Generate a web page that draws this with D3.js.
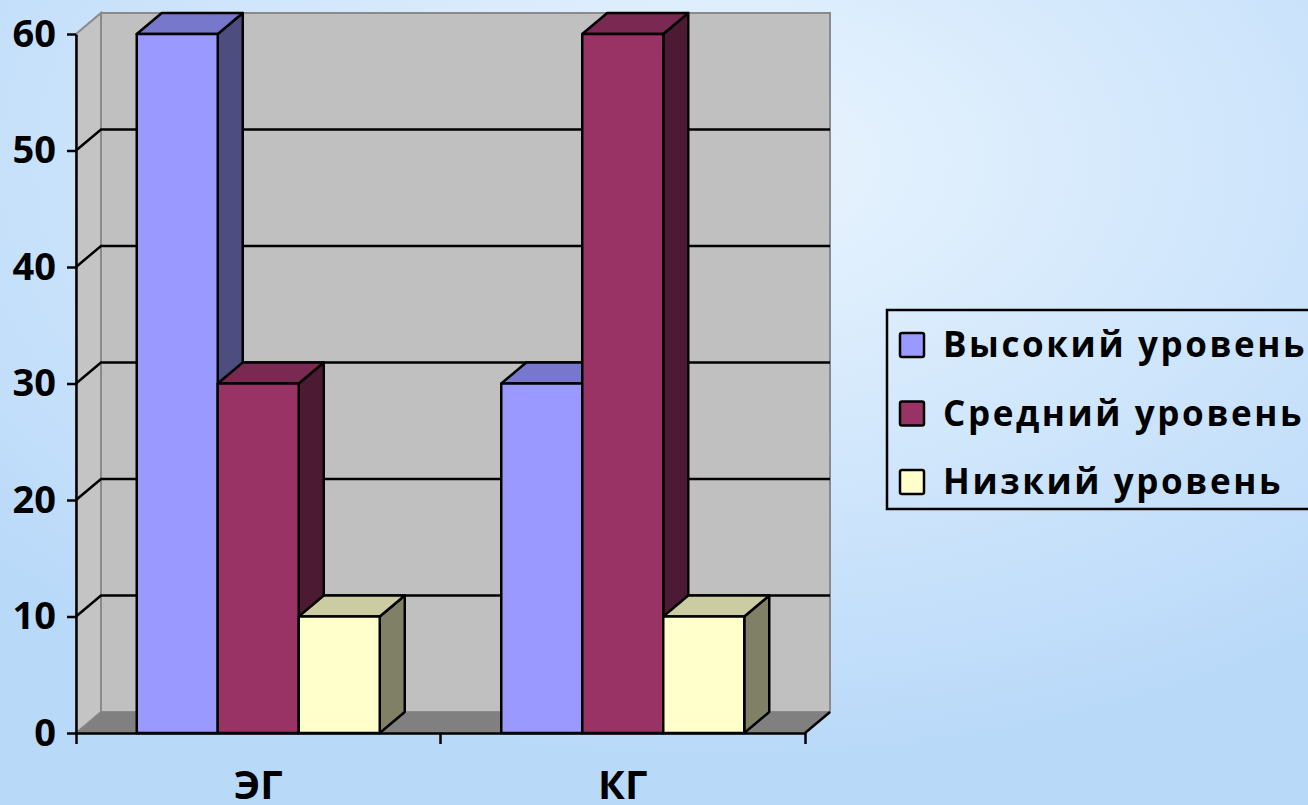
<!DOCTYPE html>
<meta charset="utf-8">
<style>
    body { margin: 0; overflow: hidden; }
    text {
        font-family: "Open Sans", "Noto Sans", sans-serif;
        font-weight: bold;
        fill: black;
    }
    .yAxis text { font-size: 38px; }
    .xAxis text { font-size: 40px; }
    .legend text { font-size: 35px; letter-spacing: 2.6px; }
    .bar path { stroke: black; stroke-width: 2.5px; stroke-linejoin: round; }
</style>
<body>
    <svg width="1308" height="805"></svg>
</body>
<script src="https://d3js.org/d3.v7.min.js"></script>
<script>
    // data
    var categories = ["ЭГ", "КГ"];
    var seriesNames = ["Высокий уровень", "Средний уровень", "Низкий уровень"];
    var highValues = [60, 30];
    var midValues = [30, 60];
    var lowValues = [10, 10];
    var yTicks = [0, 10, 20, 30, 40, 50, 60];

    var seriesValues = [highValues, midValues, lowValues];
    var frontColors = ["#9999ff", "#993366", "#ffffcc"];
    var sideColors = ["#4d4d80", "#4d1a33", "#808066"];
    var topColors = ["#7777cc", "#7a2952", "#cccca3"];

    var svg = d3.select("svg"),
        width = +svg.attr("width"),
        height = +svg.attr("height");

    // background gradient
    var defs = svg.append("defs");
    var grad = defs.append("radialGradient").attr("id", "bg")
        .attr("cx", "55%").attr("cy", "20%").attr("r", "75%");
    grad.append("stop").attr("offset", "0%").attr("stop-color", "#eaf5fe");
    grad.append("stop").attr("offset", "100%").attr("stop-color", "#b9d9f9");
    svg.append("rect").attr("width", width).attr("height", height).attr("fill", "url(#bg)");

    // 3d depth offset
    var dx = 25, dy = -21;

    var y = d3.scaleLinear().domain([0, 60]).range([733, 34]);
    var x0 = d3.scaleBand().domain(categories).range([76, 805]);
    var x1 = d3.scaleBand().domain(seriesNames).range([0, x0.bandwidth()])
        .paddingInner(0).paddingOuter(0.75);

    var g = svg.append("g");
    var xLeft = x0.range()[0], xRight = x0.range()[1];
    var yTop = y(60), yBase = y(0);

    // walls
    g.append("path")
        .attr("d", "M" + (xLeft + dx) + "," + (yTop + dy) + "H" + (xRight + dx) + "V" + (yBase + dy) + "H" + (xLeft + dx) + "Z")
        .attr("fill", "#c0c0c0").attr("stroke", "#8a8a8a").attr("stroke-width", 2);
    g.append("path")
        .attr("d", "M" + xLeft + "," + yTop + "L" + (xLeft + dx) + "," + (yTop + dy) + "V" + (yBase + dy) + "L" + xLeft + "," + yBase + "Z")
        .attr("fill", "#c4c4c4").attr("stroke", "#8a8a8a").attr("stroke-width", 2);

    // gridlines
    g.selectAll(".gridline")
        .data(yTicks.filter(function (d) { return d > 0 && d < 60; }))
        .enter().append("path")
        .attr("class", "gridline")
        .attr("fill", "none").attr("stroke", "black").attr("stroke-width", 2.5)
        .attr("d", function (d) {
            return "M" + xLeft + "," + y(d) + "L" + (xLeft + dx) + "," + (y(d) + dy) + "H" + (xRight + dx);
        });

    // floor
    g.append("path")
        .attr("d", "M" + xLeft + "," + yBase + "L" + (xLeft + dx) + "," + (yBase + dy) + "H" + (xRight + dx) + "L" + xRight + "," + yBase + "Z")
        .attr("fill", "#808080");
    g.append("path")
        .attr("d", "M" + xRight + "," + yBase + "L" + (xRight + dx) + "," + (yBase + dy))
        .attr("stroke", "black").attr("stroke-width", 2.5);

    // bars, drawn left to right
    var bars = [];
    categories.forEach(function (c, ci) {
        seriesNames.forEach(function (s, si) {
            bars.push({ cat: c, s: s, si: si, value: seriesValues[si][ci] });
        });
    });

    var barG = g.selectAll(".bar")
        .data(bars)
        .enter().append("g")
        .attr("class", "bar");

    barG.each(function (d) {
        var b = d3.select(this);
        var xl = x0(d.cat) + x1(d.s), xr = xl + x1.bandwidth();
        var yt = y(d.value);
        b.append("path")
            .attr("fill", sideColors[d.si])
            .attr("d", "M" + xr + "," + yt + "L" + (xr + dx) + "," + (yt + dy) + "V" + (yBase + dy) + "L" + xr + "," + yBase + "Z");
        b.append("path")
            .attr("fill", topColors[d.si])
            .attr("d", "M" + xl + "," + yt + "L" + (xl + dx) + "," + (yt + dy) + "H" + (xr + dx) + "L" + xr + "," + yt + "Z");
        b.append("path")
            .attr("fill", frontColors[d.si])
            .attr("d", "M" + xl + "," + yt + "H" + xr + "V" + yBase + "H" + xl + "Z");
    });

    // y axis
    var yAxis = g.append("g")
        .attr("class", "yAxis")
        .attr("transform", "translate(" + xLeft + ",0)")
        .call(d3.axisLeft(y).tickValues(yTicks).tickSize(9).tickSizeOuter(0).tickPadding(11));
    yAxis.selectAll("path, line").attr("stroke", "black").attr("stroke-width", 2.5);
    yAxis.selectAll("text").attr("font-family", null).attr("font-size", null);

    // x axis
    var xAxis = g.append("g")
        .attr("class", "xAxis")
        .attr("transform", "translate(0," + yBase + ")")
        .call(d3.axisBottom(x0).tickSize(0).tickSizeOuter(11).tickPadding(38));
    xAxis.selectAll("path").attr("stroke", "black").attr("stroke-width", 2.5);
    xAxis.selectAll("text").attr("font-family", null).attr("font-size", null).attr("dy", "0.7em");
    xAxis.append("line")
        .attr("x1", x0("КГ")).attr("x2", x0("КГ"))
        .attr("y1", 0).attr("y2", 11)
        .attr("stroke", "black").attr("stroke-width", 2.5);

    // legend
    var legend = svg.append("g").attr("class", "legend").attr("transform", "translate(887,310)");
    legend.append("rect")
        .attr("width", 440).attr("height", 199)
        .attr("fill", "none").attr("stroke", "black").attr("stroke-width", 2.5);
    var rowY = d3.scalePoint().domain(seriesNames).range([35, 172]);
    var item = legend.selectAll(".item")
        .data(seriesNames)
        .enter().append("g")
        .attr("class", "item")
        .attr("transform", function (d) { return "translate(0," + rowY(d) + ")"; });
    item.append("rect")
        .attr("x", 13).attr("y", -12).attr("width", 24).attr("height", 24).attr("rx", 2)
        .attr("fill", function (d, i) { return frontColors[i]; })
        .attr("stroke", "black").attr("stroke-width", 2.5);
    item.append("text")
        .attr("x", 56).attr("dy", "0.35em")
        .text(function (d) { return d; });
</script>
